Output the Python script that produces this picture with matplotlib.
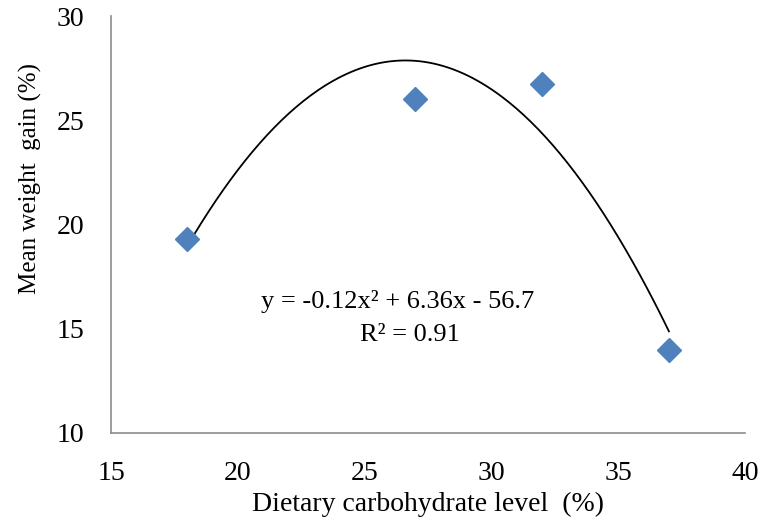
import matplotlib
matplotlib.use("Agg")
import matplotlib.pyplot as plt
import numpy as np

plt.rcParams["font.family"] = ["Liberation Serif", "DejaVu Serif"]

# carbohydrate level (%) vs mean weight gain (%)
carb = [18, 27, 32, 37]
gain = [19.3, 26.0, 26.75, 14.0]

x_ticks = [15, 20, 25, 30, 35, 40]
y_ticks = [10, 15, 20, 25, 30]

# quadratic trend line fitted to the points
coef = np.polyfit(carb, gain, 2)
xs = np.linspace(min(carb), max(carb), 200)
ys = np.polyval(coef, xs)

fig = plt.figure(figsize=(7.62, 5.27), dpi=100)
ax = fig.add_axes([0.1457, 0.1784, 0.832, 0.7912])

ax.plot(xs, ys, color="black", lw=1.3)
ax.plot(carb, gain, "D", color="#4F81BD", ms=12, mec="#4F81BD")

ax.set_xlim(15, 40)
ax.set_ylim(10, 30)
ax.set_xticks(x_ticks)
ax.set_yticks(y_ticks)
ax.tick_params(length=0, labelsize=20)
ax.tick_params(axis="x", pad=20)
ax.tick_params(axis="y", pad=19)

for s in ["top", "right"]:
    ax.spines[s].set_visible(False)
for s in ["left", "bottom"]:
    ax.spines[s].set_color("#8c8c8c")
    ax.spines[s].set_linewidth(1.2)

ax.set_xlabel("Dietary carbohydrate level  (%)", fontsize=20)
ax.set_ylabel("Mean weight  gain (%)", fontsize=18)
ax.xaxis.set_label_coords(0.5, -0.14)
ax.yaxis.set_label_coords(-0.109, 0.61)

ax.text(26.3, 16.3, "y = -0.12x² + 6.36x - 56.7", fontsize=19,
        ha="center", va="center")
ax.text(26.8, 14.7, "R² = 0.91", fontsize=19, ha="center", va="center")

fig.savefig("out.png", dpi=100)
